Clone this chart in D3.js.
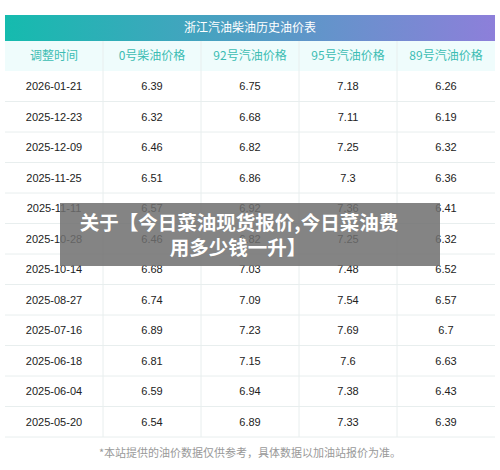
<!DOCTYPE html><html><head><meta charset="utf-8"><script src="https://cdn.jsdelivr.net/npm/d3@7"></script>
<style>body{margin:0;background:#fff}</style></head><body><div id="c"></div><script>
const title="浙江汽油柴油历史油价表";
const headers=["调整时间","0号柴油价格","92号汽油价格","95号汽油价格","89号汽油价格"];
const dates=["2026-01-21","2025-12-23","2025-12-09","2025-11-25","2025-11-11","2025-10-28","2025-10-14","2025-08-27","2025-07-16","2025-06-18","2025-06-04","2025-05-20"];
const diesel0=["6.39","6.32","6.46","6.51","6.57","6.46","6.68","6.74","6.89","6.81","6.59","6.54"];
const gas92=["6.75","6.68","6.82","6.86","6.92","6.82","7.03","7.09","7.23","7.15","6.94","6.89"];
const gas95=["7.18","7.11","7.25","7.3","7.36","7.25","7.48","7.54","7.69","7.6","7.38","7.33"];
const gas89=["6.26","6.19","6.32","6.36","6.41","6.32","6.52","6.57","6.7","6.63","6.43","6.39"];
const note="*本站提供的油价数据仅供参考，具体数据以加油站报价为准。";
const banner=["关于【今日菜油现货报价,今日菜油费","用多少钱一升】"];
const F="'Noto Sans CJK SC','Liberation Sans',sans-serif";
const svg=d3.select("#c").append("svg").attr("width",500).attr("height",470);
const g=svg.append("defs").append("linearGradient").attr("id","gr");
g.append("stop").attr("offset","0").attr("stop-color","#15bbae");
g.append("stop").attr("offset","1").attr("stop-color","#8d7fda");
const x=d3.scaleBand().domain(d3.range(5)).range([5,495]);
const y=d3.scaleBand().domain(d3.range(dates.length)).range([71,437]);
svg.append("rect").attr("x",5).attr("y",15).attr("width",490).attr("height",26).attr("fill","url(#gr)");
svg.append("text").attr("x",250).attr("y",32).attr("text-anchor","middle").attr("fill","#fff").attr("font-size",12).attr("font-family",F).text(title);
svg.append("rect").attr("x",5).attr("y",41).attr("width",490).attr("height",30).attr("fill","#effcfc");
svg.selectAll(".h").data(headers).join("text").attr("x",(d,i)=>x(i)+x.bandwidth()/2).attr("y",60).attr("text-anchor","middle").attr("fill","#3cbcb3").attr("font-size",12).attr("font-family",F).text(d=>d);
const rows=dates.map((d,i)=>[d,diesel0[i],gas92[i],gas95[i],gas89[i]]);
svg.selectAll(".l").data(rows).join("line").attr("x1",5).attr("x2",495).attr("y1",(d,i)=>y(i)+y.bandwidth()).attr("y2",(d,i)=>y(i)+y.bandwidth()).attr("stroke","#e8eeee");
svg.selectAll(".v").data(d3.range(1,5)).join("line").attr("x1",i=>x(i)).attr("x2",i=>x(i)).attr("y1",41).attr("y2",437).attr("stroke","#e8eeee");
rows.forEach((r,i)=>svg.selectAll(".r"+i).data(r).join("text").attr("x",(d,j)=>x(j)+x.bandwidth()/2).attr("y",y(i)+y.bandwidth()/2+4).attr("text-anchor","middle").attr("fill","#222").attr("font-size",11).attr("font-family","'Liberation Sans',sans-serif").text(d=>d));
svg.append("text").attr("x",250).attr("y",457).attr("text-anchor","middle").attr("fill","#999").attr("font-size",11).attr("font-family",F).text(note);
svg.append("rect").attr("x",60).attr("y",203).attr("width",380).attr("height",63).attr("fill","rgba(110,110,110,0.85)");
banner.forEach((t,i)=>svg.append("text").attr("x",i?238:239).attr("y",230+i*25).attr("text-anchor","middle").attr("fill","#fff").attr("font-weight","bold").attr("font-size",19.5).attr("font-family",F).text(t));
</script></body></html>
